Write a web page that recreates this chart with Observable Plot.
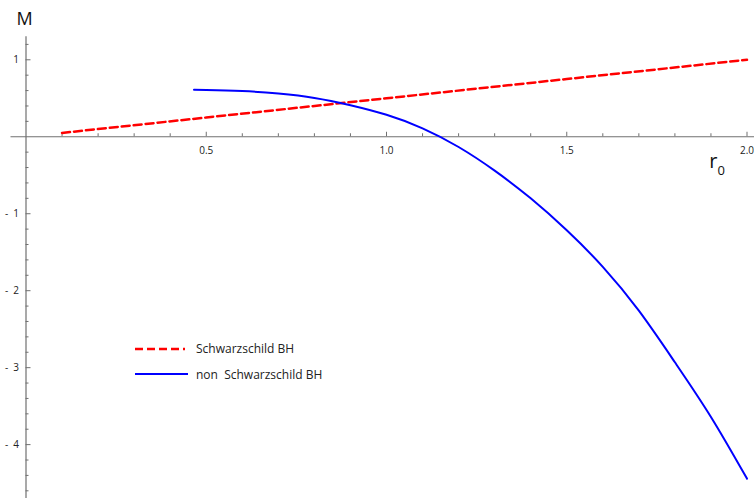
<!DOCTYPE html>
<html>
<head>
<meta charset="utf-8">
<script src="https://cdn.jsdelivr.net/npm/d3@7"></script>
<script src="https://cdn.jsdelivr.net/npm/@observablehq/plot@0.6"></script>
<style>
  html, body { margin: 0; padding: 0; background: #fff; }
  #wrap { position: relative; width: 754px; height: 498px; font-family: "Open Sans", sans-serif; }
  #legend { position: absolute; left: 135px; top: 336px; font-size: 12px; color: #222; }
  .row { display: flex; align-items: center; height: 25.4px; }
  .row svg { margin-right: 8px; }
</style>
</head>
<body>
<div id="wrap"></div>
<script>
// Schwarzschild BH: M vs r0 (dashed red)
const schwR = [0.1, 0.5, 1.0, 1.5, 2.0];
const schwM = [0.05, 0.25, 0.5, 0.75, 1.0];

// non Schwarzschild BH (solid blue)
const nonR = [0.466, 0.5, 0.6, 0.7, 0.8, 0.9, 1.0, 1.1, 1.2, 1.3, 1.4, 1.5, 1.6, 1.7, 1.8, 1.9, 2.0];
const nonM = [0.610, 0.608, 0.594, 0.561, 0.505, 0.410, 0.285, 0.110, -0.133, -0.440, -0.800, -1.215, -1.690, -2.260, -2.930, -3.640, -4.442];

// ticks
const xMajor = [0.5, 1.0, 1.5, 2.0];
const xMinor = [0.1, 0.2, 0.3, 0.4, 0.6, 0.7, 0.8, 0.9, 1.1, 1.2, 1.3, 1.4, 1.6, 1.7, 1.8, 1.9];
const yMajor = [-4, -3, -2, -1, 1];
const yMinor = [-4.6, -4.4, -4.2, -3.8, -3.6, -3.4, -3.2, -2.8, -2.6, -2.4, -2.2, -1.8, -1.6, -1.4, -1.2, -0.8, -0.6, -0.4, -0.2, 0.2, 0.4, 0.6, 0.8, 1.2];
const xDomain = [0, 2];
const yDomain = [-4.7, 1.3];

const schw = schwR.map((r, i) => ({r, M: schwM[i]}));
const non = nonR.map((r, i) => ({r, M: nonM[i]}));

const axisColor = "#707070";
const fmtY = d => d < 0 ? "-\u2002" + (-d) : String(d);

const chart = Plot.plot({
  width: 754,
  height: 498,
  marginLeft: 25.5,
  marginRight: 7.5,
  marginTop: 36.2,
  marginBottom: 0,
  style: {fontFamily: "Open Sans, sans-serif", background: "#fff", overflow: "visible"},
  x: {domain: xDomain, axis: null},
  y: {domain: yDomain, axis: null},
  marks: [
    // axis lines
    Plot.ruleY([0], {stroke: axisColor, strokeWidth: 1.2, insetLeft: -15, insetRight: -7.5}),
    Plot.ruleX([0], {stroke: axisColor, strokeWidth: 1.2}),
    // x ticks (pointing up)
    Plot.ruleX(xMajor, {x: d => d, y1: 0, y2: 0, insetTop: -4.5, stroke: axisColor, strokeWidth: 1}),
    Plot.ruleX(xMinor, {x: d => d, y1: 0, y2: 0, insetTop: -3, stroke: axisColor, strokeWidth: 1}),
    // y ticks (pointing right)
    Plot.ruleY(yMajor, {y: d => d, x1: 0, x2: 0, insetRight: -5, stroke: axisColor, strokeWidth: 1}),
    Plot.ruleY(yMinor, {y: d => d, x1: 0, x2: 0, insetRight: -3, stroke: axisColor, strokeWidth: 1}),
    // tick labels
    Plot.text(xMajor, {x: d => d, y: 0, dy: 14, text: d => d.toFixed(1), fontSize: 10, fill: "#222"}),
    Plot.text(yMajor, {x: 0, y: d => d, dx: -7, textAnchor: "end", text: fmtY, fontSize: 10, fill: "#222"}),
    // data
    Plot.line(schw, {x: "r", y: "M", stroke: "#ff0000", strokeWidth: 2.5, strokeDasharray: "8,4"}),
    Plot.line(non, {x: "r", y: "M", stroke: "#0000ff", strokeWidth: 2, curve: "natural"})
  ]
});

const svg = d3.select(chart);
svg.append("text").attr("x", 24.5).attr("y", 25).attr("text-anchor", "middle")
  .attr("font-size", 18).attr("fill", "#111").text("M");
const rl = svg.append("text").attr("x", 717).attr("y", 168).attr("font-size", 20).attr("fill", "#111");
rl.append("tspan").text("r");
rl.append("tspan").attr("font-size", 13).attr("dy", 7).text("0");

const wrap = document.getElementById("wrap");
wrap.appendChild(chart);

// legend
const legendItems = ["Schwarzschild BH", "non\u00a0 Schwarzschild BH"];
const legendStroke = ["#ff0000", "#0000ff"];
const legendDash = ["8,4", null];
const legendW = [50, 53];
const lg = document.createElement("div");
lg.id = "legend";
legendItems.forEach((t, i) => {
  const row = document.createElement("div");
  row.className = "row";
  const s = d3.create("svg").attr("width", 53).attr("height", 6);
  s.append("line").attr("x1", 0).attr("x2", legendW[i]).attr("y1", 3).attr("y2", 3)
    .attr("stroke", legendStroke[i]).attr("stroke-width", i === 0 ? 2.5 : 2)
    .attr("stroke-dasharray", legendDash[i]);
  row.appendChild(s.node());
  const sp = document.createElement("span");
  sp.textContent = t;
  row.appendChild(sp);
  lg.appendChild(row);
});
wrap.appendChild(lg);
</script>
</body>
</html>
